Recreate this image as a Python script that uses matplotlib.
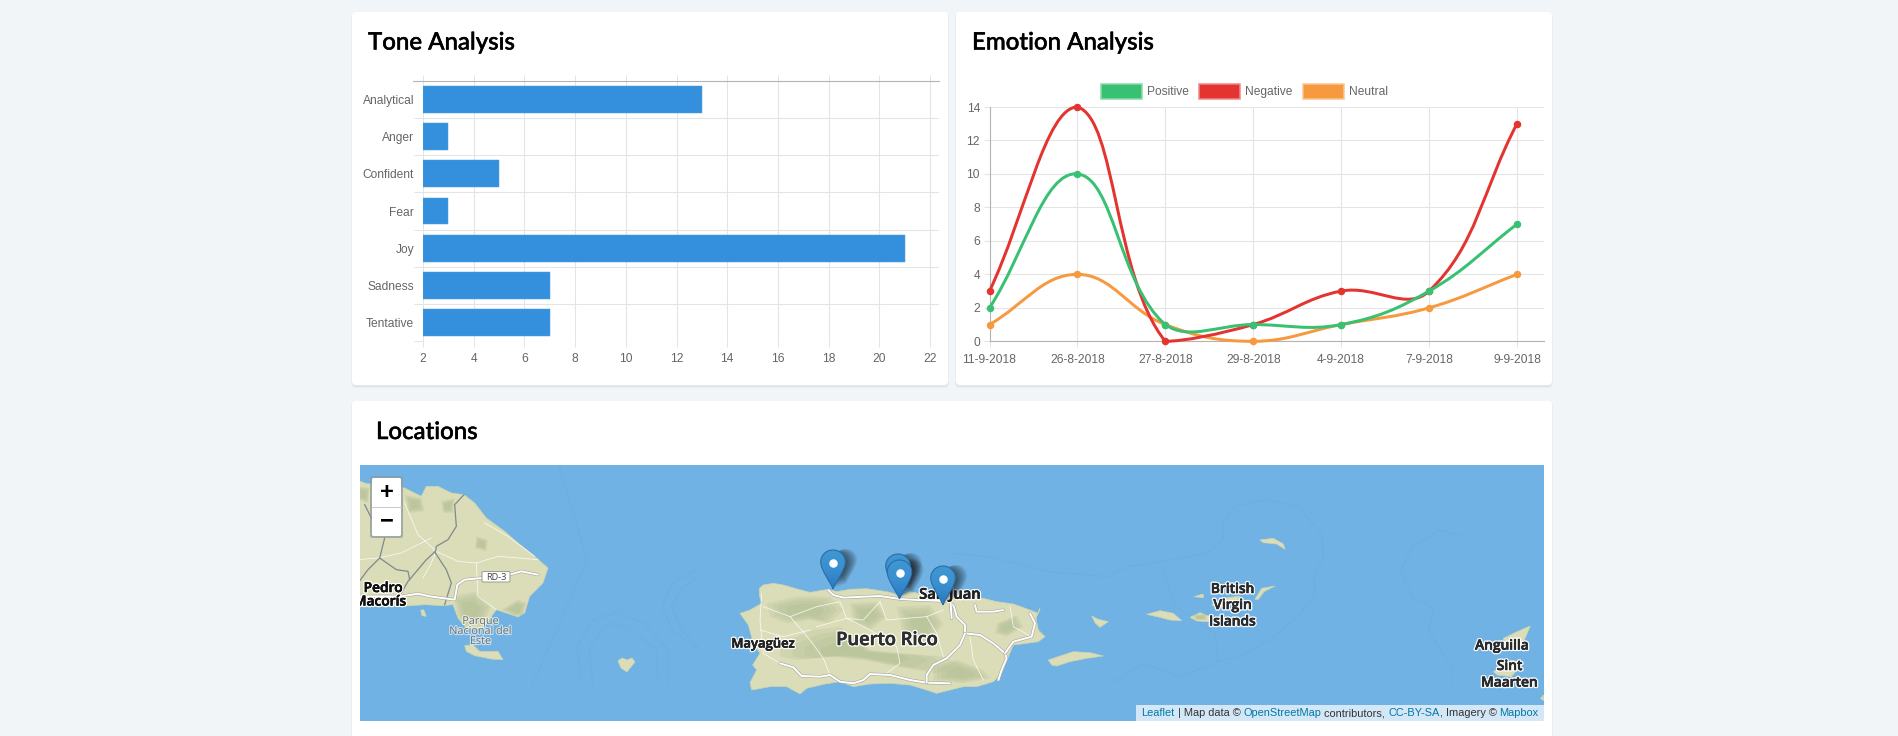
import numpy as np
import matplotlib
matplotlib.use('Agg')
import matplotlib.pyplot as plt
import matplotlib.patheffects as pe
from matplotlib.patches import FancyBboxPatch, PathPatch, Polygon, Patch, Rectangle
from matplotlib.path import Path
from matplotlib.colors import LinearSegmentedColormap

W, H = 1898, 736
PX = 0.72  # points per pixel at dpi 100

# Tone chart
tone_labels = ['Analytical', 'Anger', 'Confident', 'Fear', 'Joy', 'Sadness', 'Tentative']
tone_values = [13, 3, 5, 3, 21, 7, 7]
tone_ticks = [2, 4, 6, 8, 10, 12, 14, 16, 18, 20, 22]

# Emotion chart
dates = ['11-9-2018', '26-8-2018', '27-8-2018', '29-8-2018', '4-9-2018', '7-9-2018', '9-9-2018']
positive = [2, 10, 1, 1, 1, 3, 7]
negative = [3, 14, 0, 1, 3, 3, 13]
neutral = [1, 4, 1, 0, 1, 2, 4]

BLUE = '#3490dc'
GREEN = '#38c172'
RED = '#e3342f'
ORANGE = '#f6993f'
BG = '#f1f5f8'
GRID = '#e4e4e4'
AXIS = '#b4b4b4'
TXT = '#666666'
WATER = '#71b2e4'
LAND = '#dbdcb8'
HILL = '#9fb284'
SANS = ['Liberation Sans', 'DejaVu Sans']
MAPFONT = ['Open Sans', 'DejaVu Sans']
TITLEFONT = ['Lato', 'DejaVu Sans']


# crop coordinates -> page pixels
def crop(pts, x0, y0, fx=3.0, fy=3.0):
    return [(x0 + x / fx, y0 + y / fy) for x, y in pts]


def z4(pts):
    return crop(pts, 950, 390, 2.53, 3)


def z3(pts):
    return crop(pts, 340, 390, 2.53, 3)


def z5(pts):
    return crop(pts, 730, 530)


def z6(pts):
    return crop(pts, 358, 463)


def z7(pts):
    return crop(pts, 1040, 520)


# map shapes
puerto_rico = z5([(88, 175), (100, 165), (130, 160), (160, 165), (205, 178), (240, 187), (295, 178), (320, 185),
                  (360, 178), (410, 176), (470, 185), (490, 190), (510, 200), (540, 185), (590, 195), (650, 195),
                  (700, 200), (760, 205), (800, 215), (850, 222), (900, 240), (925, 250), (930, 235), (918, 265),
                  (925, 300), (945, 320), (925, 335), (890, 340), (850, 345), (835, 380), (815, 430), (790, 455),
                  (740, 470), (700, 470), (660, 480), (620, 490), (590, 480), (540, 465), (480, 460), (420, 462),
                  (370, 470), (330, 455), (285, 462), (230, 475), (210, 492), (170, 470), (120, 470), (65, 480),
                  (60, 458), (80, 420), (68, 405), (90, 370), (70, 340), (55, 285), (30, 250), (60, 240), (95, 220),
                  (88, 195)])
hispaniola = z6([(0, 52), (25, 62), (80, 65), (140, 75), (190, 100), (205, 70), (240, 70), (280, 90), (318, 95),
                 (350, 120), (385, 165), (440, 205), (480, 240), (530, 280), (570, 315), (555, 360), (515, 400),
                 (500, 450), (480, 462), (430, 445), (415, 440), (375, 495), (325, 495), (300, 465), (285, 425),
                 (255, 428), (200, 425), (130, 430), (0, 430)])
small_land = [
    z6([(320, 548), (345, 545), (365, 565), (420, 565), (435, 590), (400, 588), (350, 578), (325, 565)]),
    z6([(188, 442), (197, 440), (205, 460), (192, 458)]),
    [(618, 661), (622, 658), (627, 660), (632, 658), (635, 662), (630, 668), (627, 672), (621, 668)],
    z7([(25, 420), (60, 408), (100, 395), (150, 398), (190, 408), (140, 415), (90, 425), (50, 438), (35, 435)]),
    z7([(155, 288), (175, 298), (205, 305), (190, 315), (180, 322), (165, 308)]),
    z7([(320, 283), (360, 272), (400, 280), (425, 302), (390, 300), (360, 292)]),
    z7([(450, 292), (480, 278), (510, 290), (505, 305), (470, 303)]),
    z7([(515, 255), (550, 235), (600, 228), (590, 245), (540, 262)]),
    z7([(462, 230), (490, 222), (490, 233)]),
    z7([(645, 238), (665, 205), (705, 198), (672, 215), (655, 238)]),
    z7([(660, 60), (700, 55), (730, 72), (735, 88), (710, 72), (670, 68)]),
    z4([(1400, 745), (1435, 725), (1468, 708), (1455, 745), (1440, 770), (1400, 765)]),
    z4([(1375, 845), (1420, 810), (1450, 820), (1420, 860), (1385, 855)]),
    z4([(1494, 925), (1502, 915), (1502, 932)]),
]
hills = [
    z5([(150, 340), (250, 300), (330, 290), (420, 360), (520, 370), (640, 380), (680, 400), (620, 430), (500, 410),
        (400, 390), (300, 380), (200, 390), (150, 380)]),
    z5([(110, 220), (200, 200), (300, 200), (340, 240), (300, 280), (240, 270), (170, 280), (120, 260)]),
    z5([(800, 280), (860, 255), (880, 290), (830, 320), (795, 310)]),
    z5([(610, 410), (680, 390), (760, 420), (780, 445), (700, 460), (610, 450)]),
    z5([(360, 220), (440, 215), (470, 260), (420, 300), (370, 280)]),
    z5([(500, 230), (600, 225), (640, 280), (600, 340), (520, 320)]),
    z7([(460, 285), (500, 282), (500, 300), (465, 300)]),
    z6([(285, 400), (350, 385), (400, 430), (375, 490), (325, 490), (300, 460)]),
    z6([(430, 440), (480, 410), (505, 420), (495, 458), (470, 460)]),
    z6([(140, 95), (190, 105), (200, 145), (150, 150)]),
    z6([(250, 115), (290, 105), (285, 150), (255, 150)]),
    z6([(0, 70), (35, 75), (30, 120), (0, 110)]),
    z6([(355, 220), (390, 230), (385, 265), (350, 255)]),
]
major_roads = [
    z5([(295, 180), (310, 195), (340, 203), (400, 200), (450, 198), (510, 207), (560, 210), (620, 212), (660, 215),
        (672, 230), (680, 260), (705, 285), (705, 310), (750, 315), (790, 340), (825, 370), (830, 385), (815, 420),
        (805, 450)]),
    z5([(150, 400), (190, 412), (215, 438), (270, 440), (300, 435), (330, 455), (370, 460), (400, 450), (420, 432),
        (480, 435), (540, 450), (590, 458), (660, 460)]),
    z5([(705, 310), (690, 345), (650, 385), (610, 405), (590, 435), (590, 458)]),
    z5([(735, 225), (740, 245), (790, 245), (820, 240)]),
    z5([(825, 370), (850, 335), (905, 320), (915, 280), (900, 250)]),
    z5([(662, 220), (665, 265)]),
    z6([(0, 400), (130, 400), (180, 392), (215, 400), (290, 410), (298, 365), (320, 350), (370, 345), (455, 335),
        (490, 325), (540, 335)]),
]
minor_roads = [
    z5([(95, 190), (90, 270), (100, 370), (150, 400)]),
    z5([(100, 230), (180, 260), (260, 230), (330, 215), (350, 265), (400, 270), (450, 215)]),
    z5([(260, 290), (350, 265), (420, 300), (500, 350), (510, 400), (470, 430)]),
    z5([(180, 260), (240, 330), (280, 385), (300, 435)]),
    z5([(450, 215), (470, 270), (590, 260), (640, 240)]),
    z5([(590, 260), (620, 310), (640, 380)]),
    z5([(90, 300), (160, 320), (240, 300)]),
    z5([(720, 320), (730, 390), (760, 450)]),
    z5([(840, 230), (850, 290), (905, 320)]),
    z6([(140, 120), (180, 215), (235, 265), (300, 295), (355, 300), (420, 280), (540, 290)]),
    z6([(355, 300), (360, 400), (415, 440)]),
    z6([(380, 180), (450, 220), (530, 280)]),
    z6([(195, 345), (215, 310), (235, 265)]),
    z6([(0, 290), (60, 285), (130, 270), (220, 225)]),
]
grey_roads = [
    z6([(318, 95), (290, 125), (295, 190), (270, 230), (235, 250), (232, 270), (265, 320), (280, 360), (260, 425)]),
    z6([(232, 265), (205, 290), (150, 355), (130, 390)]),
    z6([(80, 225), (65, 285), (115, 320), (150, 325), (155, 350)]),
    z6([(65, 285), (30, 320), (0, 360)]),
    z6([(20, 125), (40, 165)]),
]
contours = [
    [(559, 465), (587, 560), (532, 686)],
    z3([(610, 880), (600, 770), (640, 690), (700, 665), (770, 700), (830, 780), (830, 880)]),
    z3([(640, 885), (630, 770), (680, 700), (730, 710), (800, 780), (805, 880)]),
    z3([(905, 535), (840, 580), (815, 650), (840, 720), (905, 775)]),
    z3([(905, 560), (860, 600), (840, 650), (860, 710), (905, 770)]),
    z4([(690, 400), (720, 350), (800, 328), (880, 350), (940, 430), (945, 500), (920, 565), (925, 610), (880, 680),
        (820, 740), (750, 790), (680, 815), (580, 860), (490, 820), (400, 885)]),
    z4([(0, 490), (100, 500), (250, 545), (400, 560), (450, 530), (530, 515), (650, 490), (690, 450), (690, 400)]),
    z4([(535, 525), (570, 650), (670, 730), (680, 815)]),
    z4([(1300, 440), (1240, 420), (1170, 470), (1140, 540), (1170, 620), (1225, 655), (1210, 720), (1270, 835),
        (1270, 890)]),
]
pin_tips = [(833, 589), (898, 593), (899.5, 599), (943, 605)]


def spline_path(vals, sx, sy, tension=0.4):
    # same control points as the original line chart, worked out in pixels
    pts = np.column_stack([np.arange(len(vals)) * sx, np.array(vals, dtype=float) * sy])
    n = len(pts)
    before, after = [], []
    for i in range(n):
        prev, cur, nxt = pts[max(i - 1, 0)], pts[i], pts[min(i + 1, n - 1)]
        d01 = np.hypot(*(cur - prev))
        d12 = np.hypot(*(nxt - cur))
        s01 = d01 / (d01 + d12)
        s12 = d12 / (d01 + d12)
        before.append(cur - tension * s01 * (nxt - prev))
        after.append(cur + tension * s12 * (nxt - prev))
    before = np.array(before)
    after = np.array(after)
    for arr in (before, after):
        arr[:, 0] = np.clip(arr[:, 0], 0, (n - 1) * sx)
        arr[:, 1] = np.clip(arr[:, 1], 0, 14 * sy)
    verts = [pts[0]]
    codes = [Path.MOVETO]
    for i in range(n - 1):
        verts += [after[i], before[i + 1], pts[i + 1]]
        codes += [Path.CURVE4] * 3
    return Path(np.array(verts) / [sx, sy], codes)


def px_axes(x0, y0, x1, y1, **kw):
    return fig.add_axes([x0 / W, 1 - y1 / H, (x1 - x0) / W, (y1 - y0) / H], **kw)


def pin_path(x, y, scale=1.0):
    shape = np.array([(0, 0), (2, -6), (12.3, -19), (12.3, -27), (12.3, -33.8), (6.8, -39), (0, -39), (-6.8, -39),
                      (-12.3, -33.8), (-12.3, -27), (-12.3, -19), (-2, -6), (0, 0)], dtype=float) * scale
    codes = [Path.MOVETO] + [Path.CURVE4] * 12
    return Path(shape + [x, y], codes)


fig = plt.figure(figsize=(W / 100, H / 100), dpi=100, facecolor=BG)

# page background with the cards
page = fig.add_axes([0, 0, 1, 1])
page.set_xlim(0, W)
page.set_ylim(H, 0)
page.axis('off')
for x0, y0, x1, y1 in [(352, 12, 948, 385), (956, 12, 1552, 385), (352, 401, 1552, 760)]:
    for grow, col in [(2, '#e9edf1'), (1, '#e2e6ea')]:
        page.add_patch(FancyBboxPatch((x0 - grow + 1, y0 + 1), x1 - x0 + 2 * grow - 2, y1 - y0 + grow,
                                      boxstyle='round,pad=0,rounding_size=5', fc=col, ec='none'))
    page.add_patch(FancyBboxPatch((x0, y0), x1 - x0, y1 - y0, boxstyle='round,pad=0,rounding_size=4',
                                  fc='white', ec='none'))
for x, y, title in [(368, 49.5, 'Tone Analysis'), (972, 49.5, 'Emotion Analysis'), (376, 439, 'Locations')]:
    page.text(x, y, title, fontsize=17.3, family=TITLEFONT, color='black', va='baseline', ha='left', weight='medium',
              path_effects=[pe.withStroke(linewidth=0.35, foreground='black')])

# tone bars
ax = px_axes(423, 81, 939, 341)
ax.set_xlim(2, 22 + 9 / 25.35)
ax.set_ylim(len(tone_labels), 0)
centers = np.arange(len(tone_labels)) + 0.5
ax.barh(centers, np.array(tone_values) - 2, left=2, height=0.72, color=BLUE, edgecolor='#4a9de1', linewidth=0.35,
        zorder=3)
ax.set_xticks(tone_ticks)
ax.set_yticks(centers)
ax.set_yticklabels(tone_labels)
ax.set_yticks(np.arange(len(tone_labels) + 1), minor=True)
ax.grid(True, axis='x', color=GRID, linewidth=0.75, zorder=0)
ax.grid(True, axis='y', which='minor', color=GRID, linewidth=0.75, zorder=0)
ax.tick_params(axis='y', which='major', length=0, pad=6.4, labelsize=8.64, labelcolor=TXT)
ax.tick_params(axis='y', which='minor', length=6.8, width=0.75, color=GRID)
ax.tick_params(axis='x', length=4.3, width=0.75, color=GRID, top=True, pad=4, labelsize=8.64, labelcolor=TXT)
for lab in ax.get_xticklabels() + ax.get_yticklabels():
    lab.set_family(SANS)
for name, sp in ax.spines.items():
    sp.set_visible(name == 'top')
ax.spines['top'].set_color(AXIS)
ax.spines['top'].set_linewidth(0.8)
ax.plot([-0.019, 0], [1, 1], transform=ax.transAxes, color=AXIS, lw=0.8, clip_on=False)
ax.patch.set_alpha(0)

# emotion lines
ax2 = px_axes(989.5, 107, 1544, 341.3)
step_x = (1517 - 989.5) / 6
step_y = (341.3 - 107) / 14
ax2.set_xlim(0, 554.5 / step_x)
ax2.set_ylim(0, 14)
xpos = np.arange(len(dates))
for vals, col, z in [(neutral, ORANGE, 3), (negative, RED, 4), (positive, GREEN, 5)]:
    ax2.add_patch(PathPatch(spline_path(vals, step_x, step_y), fc='none', ec=col, lw=3 * PX, zorder=z, clip_on=False))
    ax2.plot(xpos, vals, 'o', color=col, ms=7.5 * PX, mew=0, zorder=z, clip_on=False)
ax2.set_xticks(xpos)
ax2.set_xticklabels(dates)
ax2.set_yticks(range(0, 15, 2))
ax2.grid(True, color=GRID, linewidth=0.75, zorder=0)
ax2.tick_params(axis='both', length=4.3, width=0.75, color=GRID, labelsize=8.64, labelcolor=TXT, pad=2.5)
ax2.tick_params(axis='x', pad=4.5)
for lab in ax2.get_xticklabels() + ax2.get_yticklabels():
    lab.set_family(SANS)
for name, sp in ax2.spines.items():
    sp.set_visible(name in ('left', 'bottom'))
    sp.set_color(AXIS)
    sp.set_linewidth(0.8)
ax2.patch.set_alpha(0)
handles = [Patch(fc=GREEN, ec='#88dcab', lw=1.1, label='Positive'),
           Patch(fc=RED, ec='#ee8a87', lw=1.1, label='Negative'),
           Patch(fc=ORANGE, ec='#fac592', lw=1.1, label='Neutral')]
leg = fig.legend(handles=handles, loc='center', bbox_to_anchor=(1244.5 / W, 1 - 91.5 / H), ncol=3, frameon=False,
                 handlelength=3.4, handleheight=1.45, handletextpad=0.45, columnspacing=0.85, borderpad=0,
                 prop={'family': SANS, 'size': 8.64})
for t in leg.get_texts():
    t.set_color(TXT)

# map
mp = px_axes(360, 465, 1544, 720.7)
mp.set_xlim(360, 1544)
mp.set_ylim(720.7, 465)
mp.set_facecolor(WATER)
mp.set_xticks([])
mp.set_yticks([])
for sp in mp.spines.values():
    sp.set_visible(False)
for line in contours:
    xs, ys = zip(*line)
    mp.plot(xs, ys, color='#6badE0', lw=0.5, zorder=1)
for shape in [puerto_rico, hispaniola] + small_land:
    mp.add_patch(Polygon(shape, closed=True, fc=LAND, ec='#cdd5ad', lw=0.5, zorder=2))
# hills get soft edges by stacking shrunken copies
for shape in hills:
    arr = np.array(shape)
    mid = arr.mean(axis=0)
    for scale in (1.0, 0.85, 0.7, 0.5):
        mp.add_patch(Polygon(mid + (arr - mid) * scale, closed=True, fc=HILL, ec='none', alpha=0.16, zorder=3))
for line in minor_roads:
    xs, ys = zip(*line)
    mp.plot(xs, ys, color='white', lw=0.6, alpha=0.8, zorder=4)
for line in grey_roads:
    xs, ys = zip(*line)
    mp.plot(xs, ys, color='#7f8a8c', lw=0.9, zorder=4)
for line in major_roads:
    xs, ys = zip(*line)
    mp.plot(xs, ys, color='#a5a59a', lw=2.2, zorder=5, solid_capstyle='round')
    mp.plot(xs, ys, color='white', lw=1.4, zorder=5, solid_capstyle='round')

labels = [
    ('Puerto Rico', 887, 640, 13.2, '#2f2f2f'),
    ('Mayagüez', 763, 644, 9.4, '#222222'),
    ('San Juan', 950, 595, 10.6, '#222222'),
    ('British', 1232.5, 589, 9.9, '#2a2a2a'),
    ('Virgin', 1232.5, 605, 9.9, '#2a2a2a'),
    ('Islands', 1232.5, 621.5, 9.9, '#2a2a2a'),
    ('Anguilla', 1502, 645.5, 9.9, '#2a2a2a'),
    ('Sint', 1509.5, 666, 9.9, '#2a2a2a'),
    ('Maarten', 1509.5, 682.5, 9.9, '#2a2a2a'),
    ('Pedro', 383, 588, 9.9, '#111111'),
    ('Macorís', 380, 601.5, 9.9, '#111111'),
]
for txt, x, y, size, col in labels:
    effects = [pe.withStroke(linewidth=2.4, foreground='white', alpha=0.9),
               pe.withStroke(linewidth=0.4, foreground=col)]
    mp.text(x, y, txt, fontsize=size, color=col, weight=600, family=MAPFONT, ha='center', va='center', zorder=6,
            path_effects=effects, clip_on=True)
for txt, y in [('Parque', 621.5), ('Nacional del', 631.5), ('Este', 641.5)]:
    mp.text(480.5, y, txt, fontsize=7.8, color='#6f7570', family=MAPFONT, ha='center', va='center', zorder=6,
            path_effects=[pe.withStroke(linewidth=1.6, foreground='white', alpha=0.6)])
mp.add_patch(FancyBboxPatch((482, 571.5), 28, 10.5, boxstyle='round,pad=0,rounding_size=1.5', fc='white',
                            ec='#9a9a90', lw=0.7, zorder=6))
mp.text(496, 577, 'RD-3', fontsize=6.6, color='#444444', family=MAPFONT, ha='center', va='center', zorder=7)

# markers, each one on top of the previous
pin_cmap = LinearSegmentedColormap.from_list('pin', ['#3f97d3', '#3a8fd0', '#2878c2'])
for x, y in pin_tips:
    for d in range(1, 11):
        mp.add_patch(PathPatch(pin_path(x + d * 1.3, y - d * 0.5, 0.9), fc='#111111', ec='none', alpha=0.085,
                               zorder=7.5))
for i, (x, y) in enumerate(pin_tips):
    base = 8 + i * 0.1
    mark = PathPatch(pin_path(x, y), fc='none', ec='#2b6ea5', lw=0.8, zorder=base + 0.02)
    mp.add_patch(mark)
    img = mp.imshow(np.linspace(0, 1, 40)[:, None], cmap=pin_cmap, extent=(x - 13, x + 13, y, y - 39), aspect='auto',
                    zorder=base + 0.01, interpolation='bilinear')
    img.set_clip_path(mark)
    mp.plot([x], [y - 26.5], 'o', color='white', ms=8.5 * PX, mew=0, zorder=base + 0.03)
mp.set_xlim(360, 1544)
mp.set_ylim(720.7, 465)

# zoom control
mp.add_patch(FancyBboxPatch((370, 476), 33, 62, boxstyle='round,pad=0,rounding_size=2.5', fc='#8f9a9e', ec='none',
                            alpha=0.75, zorder=9))
mp.add_patch(FancyBboxPatch((372, 478), 29, 58, boxstyle='round,pad=0,rounding_size=1.5', fc='white', ec='none',
                            zorder=9.1))
mp.plot([372, 401], [506.5, 506.5], color='#cccccc', lw=0.8, zorder=9.2)
mp.text(386.7, 492.2, '+', fontsize=17, weight='bold', family=SANS, ha='center', va='center', color='black', zorder=9.3)
mp.text(387.3, 521.3, '\u2212', fontsize=17, weight='bold', family=SANS, ha='center', va='center', color='black',
        zorder=9.3)

# attribution
mp.add_patch(Rectangle((1135.8, 705), 1544 - 1135.8, 16, fc='white', alpha=0.7, ec='none', zorder=9))
fig.canvas.draw()
renderer = fig.canvas.get_renderer()
cursor = 1141.5
for part, col in [('Leaflet', '#0078a8'), (' | Map data © ', '#333333'), ('OpenStreetMap', '#0078a8'),
                  (' contributors, ', '#333333'), ('CC-BY-SA', '#0078a8'), (', Imagery © ', '#333333'),
                  ('Mapbox', '#0078a8')]:
    t = mp.text(cursor, 716.5, part, fontsize=7.92, color=col, family=SANS, ha='left', va='baseline', zorder=10)
    cursor += t.get_window_extent(renderer).width

fig.savefig('out.png', dpi=100, facecolor=BG)
